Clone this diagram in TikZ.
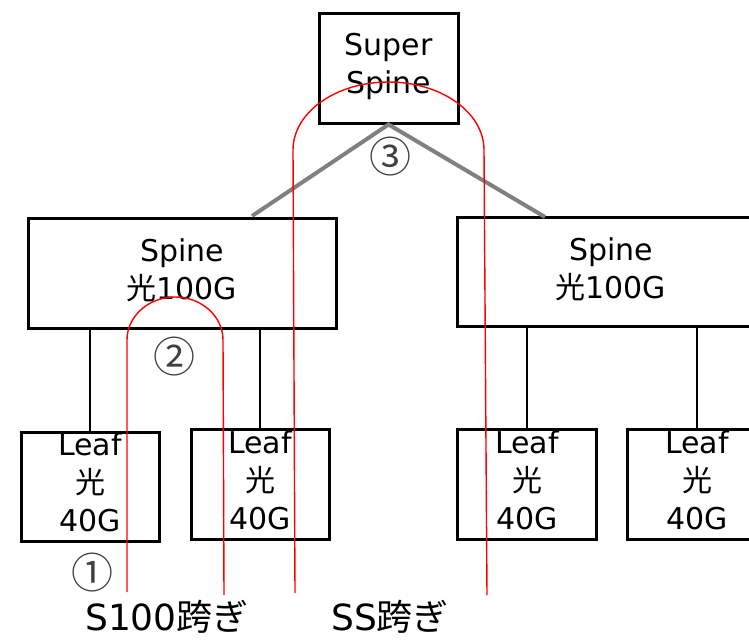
\documentclass[tikz,border=0pt]{standalone}
\usepackage{fontspec}
\setmainfont{DejaVu Sans}
\newfontfamily\jp{Noto Sans CJK JP}
\begin{document}
\begin{tikzpicture}[x=1pt,y=-1pt,
  box/.style={draw=black, line width=3pt, inner sep=0pt},
  txt/.style={align=center, inner sep=0pt, font=\fontsize{30}{38}\selectfont},
  link/.style={draw=black, line width=1.6pt},
  uplink/.style={draw=gray, line width=4pt},
  path/.style={draw=red, line width=1.4pt},
  num/.style={inner sep=0pt, text=black!75, font=\jp\fontsize{42}{42}\selectfont},
  lbl/.style={inner sep=0pt, font=\fontsize{36}{36}\selectfont}]
\useasboundingbox (0,0) rectangle (749,640);
\clip (0,0) rectangle (749,640);
% boxes
\node[box, minimum width=139pt, minimum height=110pt] (ss) at (388.5,68) {};
\node[box, minimum width=308pt, minimum height=110pt] (sl) at (182,273) {};
\node[box, minimum width=308pt, minimum height=109pt] (sr) at (611,271.5) {};
\node[box, minimum width=138pt, minimum height=109pt] (l1) at (90,486.5) {};
\node[box, minimum width=138pt, minimum height=110pt] (l2) at (260,484) {};
\node[box, minimum width=139pt, minimum height=110pt] (l3) at (527,484) {};
\node[box, minimum width=139pt, minimum height=110pt] (l4) at (697,484) {};
% texts
\node[txt] (tss) at (388.5,66) {Super\\Spine};
\node[txt] (tsl) at (182,270) {Spine\\{\jp 光}100G};
\node[txt] (tsr) at (611,269) {Spine\\{\jp 光}100G};
\node[txt] (t1) at (90,482) {Leaf\\{\jp 光}\\40G};
\node[txt] (t2) at (260,480) {Leaf\\{\jp 光}\\40G};
\node[txt] (t3) at (527,480) {Leaf\\{\jp 光}\\40G};
\node[txt] (t4) at (697,480) {Leaf\\{\jp 光}\\40G};
% links
\draw[link] (l1.north |- sl.south) -- (l1.north);
\draw[link] (l2.north |- sl.south) -- (l2.north);
\draw[link] (l3.north |- sr.south) -- (l3.north);
\draw[link] (l4.north |- sr.south) -- (l4.north);
\coordinate (gl) at (252,216);
\coordinate (gr) at (545,217);
\draw[uplink] (gl) -- (ss.south) -- (gr);
% red paths
\coordinate (a1) at (127,592);
\coordinate (a2) at (224,595);
\draw[path] (a1) -- (127,340) .. controls (127,316.3) and (148.5,297) .. (175,297)
  .. controls (201.5,297) and (223,316.3) .. (223,340) -- (a2);
\coordinate (b1) at (295,593);
\coordinate (b2) at (487,595);
\draw[path] (b1) -- (293,150) .. controls (293,112.4) and (335.8,82) .. (388.5,82)
  .. controls (441.2,82) and (484,112.4) .. (484,150) -- (b2);
% numbers
\node[num] (n1) at (92,573) {①};
\node[num] (n2) at (174,357) {②};
\node[num] (n3) at (390,157) {③};
% labels
\node[lbl] (s100) at (167,617) {S100{\jp 跨ぎ}};
\node[lbl] (ssl) at (390,617) {SS{\jp 跨ぎ}};
\end{tikzpicture}
\end{document}
